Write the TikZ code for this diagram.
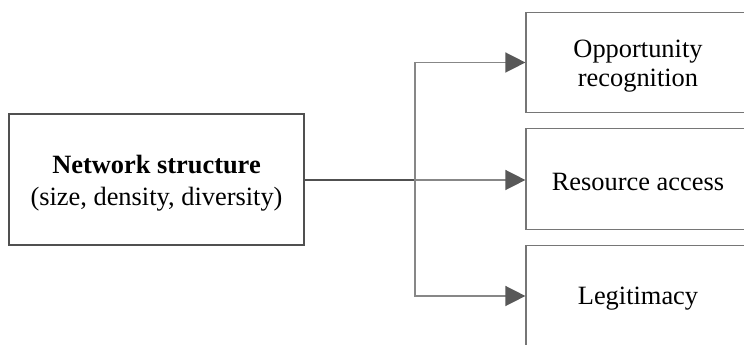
\documentclass[tikz,border=0pt]{standalone}
\usepackage{fontspec}
\setmainfont{Liberation Serif}
\usetikzlibrary{arrows.meta}
\definecolor{boxdark}{RGB}{80,80,80}
\definecolor{boxlight}{RGB}{118,118,118}
\definecolor{linegray}{RGB}{135,135,135}
\definecolor{tipgray}{RGB}{88,88,88}
\newcommand{\upstrut}{\rule{0pt}{19pt}}
\tikzset{
  mainbox/.style={draw=boxdark,line width=1.9pt,minimum width=221pt,minimum height=98pt,align=center,inner sep=0pt,font=\fontsize{19.8}{24}\selectfont},
  outbox/.style={draw=boxlight,line width=0.9pt,minimum width=168pt,minimum height=75.5pt,align=center,inner sep=0pt,font=\fontsize{19.8}{22}\selectfont},
  link/.style={draw=linegray,line width=1.1pt},
  linkarrow/.style={link,-{Triangle[length=15pt,width=15pt,color=tipgray,fill=tipgray]}}
}
\begin{document}
\begin{tikzpicture}[x=0.75pt,y=0.75pt,yscale=-1,xscale=1]
        \useasboundingbox (0,0) rectangle (744,345);
        \clip (0,0) rectangle (744,345);
        %Shape: Rectangle [id:network]
        \node [mainbox] (net) at (156.5,179.5) {\upstrut\textbf{Network structure}\\(size, density, diversity)};
        %Shape: Rectangle [id:outcomes]
        \node [outbox] (opp) at (638,62.5) {\upstrut Opportunity\\recognition};
        \node [outbox] (res) at (638,179) {\rule{0pt}{17pt}Resource access};
        \node [outbox] (leg) at (638,296) {\rule{0pt}{17.5pt}Legitimacy};
        %Straight Lines [id:split]
        \coordinate (split) at (415,180);
        \draw [draw=boxdark,line width=1.5pt] (net.east |- split) -- (split);
        \draw [linkarrow] (split) |- (opp.west);
        \draw [linkarrow] (split) -- (res.west |- split);
        \draw [linkarrow] (split) |- (leg.west);
\end{tikzpicture}
\end{document}
